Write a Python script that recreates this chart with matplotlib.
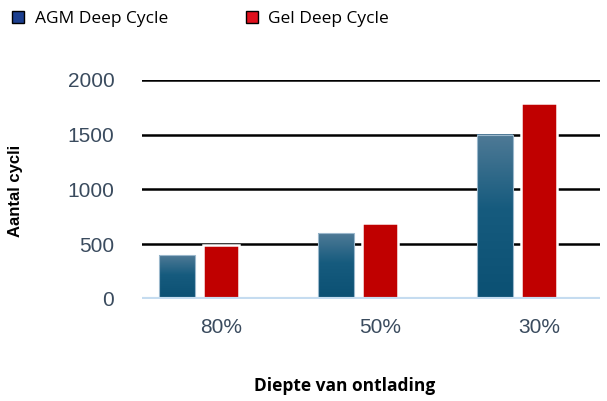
import numpy as np
import matplotlib
matplotlib.use('Agg')
import matplotlib.pyplot as plt
from matplotlib.patches import Patch
from matplotlib.colors import LinearSegmentedColormap

categories = ['80%', '50%', '30%']
agm = [400, 600, 1500]
gel = [490, 690, 1790]
yticks = [0, 500, 1000, 1500, 2000]

fig = plt.figure(figsize=(6.07, 4.01), dpi=100)
ax = fig.add_axes([0.234, 0.2544, 0.754, 0.5461])

x = np.arange(len(categories))
w = 0.226
off = 0.138

# grid lines behind bars
for t in yticks[1:]:
    ax.axhline(t, color='black', lw=1.8, zorder=1)
ax.axhline(0, color='#c5dcf0', lw=3, zorder=4)

# AGM bars with a vertical gradient
cmap = LinearSegmentedColormap.from_list(
    'agm', [(0, '#0b5073'), (0.55, '#165b7e'), (1, '#4f7a96')])
grad = np.linspace(0, 1, 256).reshape(-1, 1)
bars = ax.bar(x - off, agm, w, color='none', edgecolor='#9bb8cc', lw=0.8, zorder=3)
for b in bars:
    x0, y0 = b.get_x(), b.get_y()
    ax.imshow(grad, cmap=cmap, aspect='auto', origin='lower',
              extent=[x0, x0 + b.get_width(), y0, y0 + b.get_height()], zorder=2)

ax.bar(x + off, gel, w, color='#c00000', edgecolor='white', lw=1.8, zorder=3)

ax.set_xlim(-0.358, 2.52)
ax.set_ylim(0, 2000)
ax.set_yticks(yticks)
ax.set_xticks(x + off)
ax.set_xticklabels(categories)
ax.tick_params(length=0, labelsize=15, labelcolor='#3a4b5e', pad=0)
ax.tick_params(axis='y', pad=20)
ax.tick_params(axis='x', pad=14)
for lab in ax.get_xticklabels() + ax.get_yticklabels():
    lab.set_family('Liberation Sans')
for s in ax.spines.values():
    s.set_visible(False)

fig.text(0.026, 0.525, 'Aantal cycli', rotation=90, ha='center', va='center',
         fontsize=12, fontweight='bold', family='Liberation Sans')
fig.text(0.568, 0.037, 'Diepte van ontlading', ha='center', va='center',
         fontsize=12.5, fontweight='bold', family='Open Sans')

handles = [Patch(facecolor='#1c3f8f', edgecolor='black', lw=1),
           Patch(facecolor='#e0101c', edgecolor='black', lw=1)]
fig.legend(handles, ['AGM Deep Cycle', 'Gel Deep Cycle'], loc='upper left',
           bbox_to_anchor=(-0.006, 1.012), ncol=2, frameon=False, handlelength=0.7,
           handleheight=0.7, handletextpad=0.6, columnspacing=4.5,
           prop={'family': 'Open Sans', 'size': 12.5})

fig.savefig('out.png', dpi=100)
